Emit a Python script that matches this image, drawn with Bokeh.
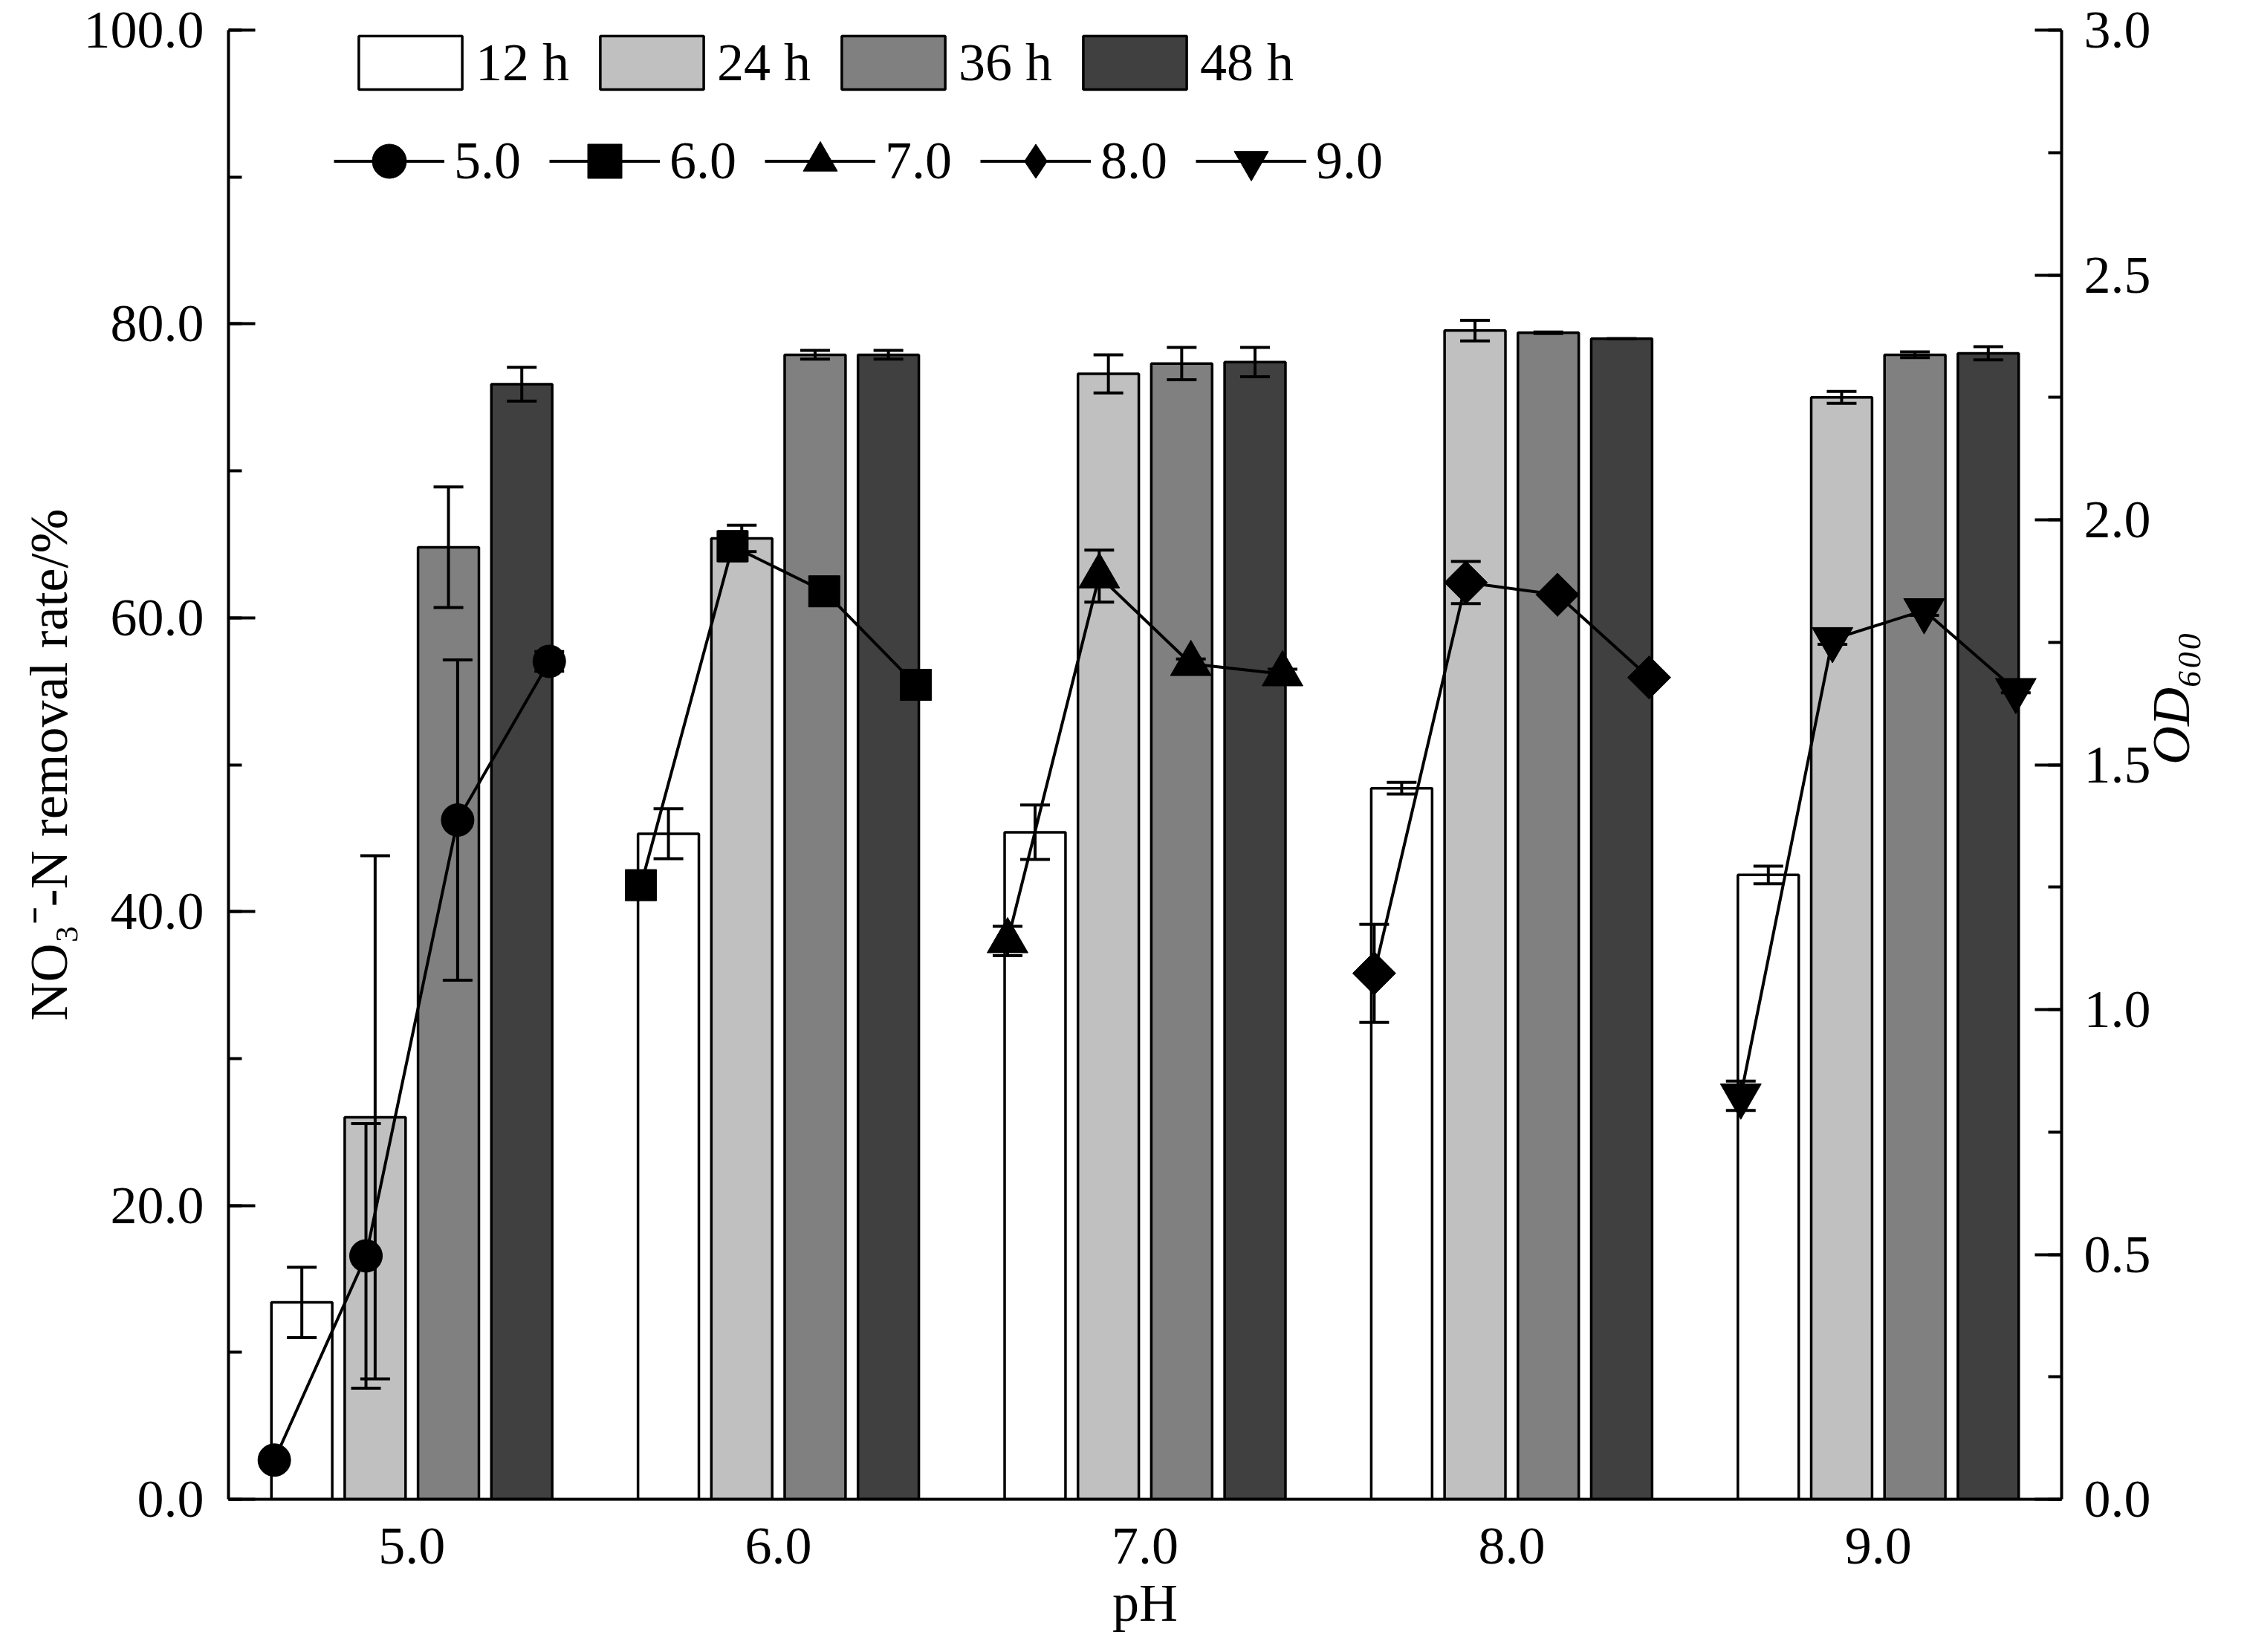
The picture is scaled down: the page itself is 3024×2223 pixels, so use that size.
import math
from bokeh.plotting import figure
from bokeh.models import (Range1d, LinearAxis, SingleIntervalTicker, FixedTicker,
                          PrintfTickFormatter, ColumnDataSource, Whisker, TeeHead,
                          Legend, LegendItem)
from bokeh.embed import file_html
from bokeh.resources import INLINE

# ---------------- data ----------------
ph = [5.0, 6.0, 7.0, 8.0, 9.0]
time_labels = ["12 h", "24 h", "36 h", "48 h"]

# NO3--N removal rate (%) by pH, one list per sampling time
rate_12h = [13.4, 45.3, 45.4, 48.4, 42.5]
rate_12h_err = [2.4, 1.7, 1.85, 0.4, 0.6]
rate_24h = [26.0, 65.4, 76.6, 79.55, 75.0]
rate_24h_err = [17.8, 0.9, 1.3, 0.7, 0.4]
rate_36h = [64.8, 77.9, 77.3, 79.4, 77.9]
rate_36h_err = [4.1, 0.3, 1.1, 0.05, 0.2]
rate_48h = [75.9, 77.9, 77.4, 79.0, 78.0]
rate_48h_err = [1.15, 0.3, 1.0, 0.0, 0.45]

# OD600 at 12/24/36/48 h, one list per pH
series_labels = ["5.0", "6.0", "7.0", "8.0", "9.0"]
od_ph5 = [0.080, 0.497, 1.387, 1.711]
od_ph5_err = [0.01, 0.27, 0.327, 0.02]
od_ph6 = [1.254, 1.946, 1.854, 1.663]
od_ph6_err = [0.01, 0.03, 0.01, 0.01]
od_ph7 = [1.140, 1.885, 1.706, 1.685]
od_ph7_err = [0.03, 0.053, 0.01, 0.01]
od_ph8 = [1.074, 1.872, 1.847, 1.678]
od_ph8_err = [0.10, 0.043, 0.01, 0.01]
od_ph9 = [0.824, 1.756, 1.815, 1.652]
od_ph9_err = [0.03, 0.01, 0.01, 0.005]

# ---------------- styling ----------------
FONT = "Liberation Serif"
FS = "72px"
bar_offsets = [-0.3, -0.1, 0.1, 0.3]
bar_colors = ["#ffffff", "#c0c0c0", "#808080", "#404040"]
line_offsets = [-0.375, -0.125, 0.125, 0.375]
markers = ["circle", "square", "triangle", "square", "inverted_triangle"]
marker_angles = [0, 0, 0, math.pi / 4, 0]
marker_sizes = [44, 42, 55, 41, 55]

W, H = 3008, 2207
p = figure(width=W, height=H, output_backend="svg", toolbar_location=None,
           x_range=Range1d(4.5, 9.5), y_range=Range1d(0, 100),
           min_border_left=307, min_border_right=234,
           min_border_top=40, min_border_bottom=190)
p.outline_line_color = None
p.grid.visible = False
p.background_fill_color = "white"
p.border_fill_color = "white"
p.extra_y_ranges = {"od": Range1d(0, 3)}


def style_axis(ax):
    ax.axis_line_width = 4
    ax.axis_line_color = "black"
    ax.major_tick_line_width = 4
    ax.minor_tick_line_width = 4
    ax.major_tick_line_color = "black"
    ax.minor_tick_line_color = "black"
    ax.major_label_text_font = FONT
    ax.major_label_text_font_size = FS
    ax.major_label_text_color = "black"
    ax.axis_label_text_font = FONT
    ax.axis_label_text_font_size = FS
    ax.axis_label_text_color = "black"
    ax.axis_label_text_font_style = "normal"


# left axis
ly = p.yaxis[0]
style_axis(ly)
ly.ticker = SingleIntervalTicker(interval=20, num_minor_ticks=2)
ly.formatter = PrintfTickFormatter(format="%.1f")
ly.major_tick_in = 36
ly.major_tick_out = 0
ly.minor_tick_in = 18
ly.minor_tick_out = 0
ly.major_label_standoff = 33
ly.axis_label = "NO\u2083\u207B-N removal rate/%"
ly.axis_label_standoff = 4

# bottom axis
bx = p.xaxis[0]
style_axis(bx)
bx.ticker = FixedTicker(ticks=ph)
bx.formatter = PrintfTickFormatter(format="%.1f")
bx.major_tick_in = 0
bx.major_tick_out = 0
bx.minor_tick_in = 0
bx.minor_tick_out = 0
bx.major_label_standoff = 39
bx.axis_label = "pH"
bx.axis_label_standoff = 10

# right axis
ry = LinearAxis(y_range_name="od")
style_axis(ry)
ry.ticker = SingleIntervalTicker(interval=0.5, num_minor_ticks=2)
ry.formatter = PrintfTickFormatter(format="%.1f")
ry.major_tick_in = 36
ry.major_tick_out = 0
ry.minor_tick_in = 18
ry.minor_tick_out = 0
ry.major_label_standoff = 30
ry.axis_label = "OD\u2086\u2080\u2080"
ry.axis_label_text_font_style = "italic"
ry.axis_label_standoff = 24
ry.axis_label_orientation = math.pi / 2
p.add_layout(ry, "right")

# ---------------- bars ----------------
bar_sets = [(rate_12h, rate_12h_err), (rate_24h, rate_24h_err),
            (rate_36h, rate_36h_err), (rate_48h, rate_48h_err)]
bar_renderers = []
for k, (vals, errs) in enumerate(bar_sets):
    src = ColumnDataSource(dict(
        x=[v + bar_offsets[k] for v in ph],
        top=vals,
        upper=[v + e for v, e in zip(vals, errs)],
        lower=[v - e for v, e in zip(vals, errs)],
    ))
    r = p.vbar(x="x", top="top", bottom=0, width=0.166, source=src,
               fill_color=bar_colors[k], line_color="black", line_width=3.5)
    bar_renderers.append(r)
    p.add_layout(Whisker(source=src, base="x", upper="upper", lower="lower",
                         level="annotation",
                         line_width=4, line_color="black",
                         upper_head=TeeHead(size=40, line_width=4, line_color="black"),
                         lower_head=TeeHead(size=40, line_width=4, line_color="black")))

# ---------------- OD lines ----------------
od_sets = [(od_ph5, od_ph5_err), (od_ph6, od_ph6_err), (od_ph7, od_ph7_err),
           (od_ph8, od_ph8_err), (od_ph9, od_ph9_err)]
line_items = []
for i, (vals, errs) in enumerate(od_sets):
    src = ColumnDataSource(dict(
        x=[ph[i] + o for o in line_offsets],
        y=vals,
        upper=[v + e for v, e in zip(vals, errs)],
        lower=[v - e for v, e in zip(vals, errs)],
    ))
    lr = p.line(x="x", y="y", source=src, y_range_name="od",
                line_color="black", line_width=4)
    sr = p.scatter(x="x", y="y", source=src, y_range_name="od",
                   marker=markers[i], size=marker_sizes[i], angle=marker_angles[i],
                   fill_color="black", line_color="black", line_width=1)
    p.add_layout(Whisker(source=src, base="x", upper="upper", lower="lower",
                         y_range_name="od", level="annotation",
                         line_width=4, line_color="black",
                         upper_head=TeeHead(size=40, line_width=4, line_color="black"),
                         lower_head=TeeHead(size=40, line_width=4, line_color="black")))
    key = sr
    if marker_angles[i] != 0:
        # legend glyphs ignore marker angle: overlay a diamond (fits inside the
        # rotated square) so that the legend shows a diamond symbol
        key = p.scatter(x="x", y="y", source=src, y_range_name="od",
                        marker="diamond", size=marker_sizes[i] * 1.41,
                        fill_color="black", line_color="black", line_width=1)
    line_items.append(LegendItem(label=series_labels[i], renderers=[lr, key]))

# ---------------- legends ----------------
leg1 = Legend(items=[LegendItem(label=t, renderers=[bar_renderers[k]])
                     for k, t in enumerate(time_labels)],
              orientation="horizontal", location=(158, 1888),
              glyph_width=174, glyph_height=90, label_standoff=1, spacing=24,
              padding=0, margin=0, border_line_color=None,
              background_fill_alpha=0,
              label_text_font=FONT, label_text_font_size=FS,
              label_text_color="black")
leg2 = Legend(items=line_items,
              orientation="horizontal", location=(142, 1743),
              glyph_width=149, glyph_height=115, label_standoff=13, spacing=38,
              padding=0, margin=0, border_line_color=None,
              background_fill_alpha=0,
              label_text_font=FONT, label_text_font_size=FS,
              label_text_color="black")
p.add_layout(leg1)
p.add_layout(leg2)

open("out.html", "w").write(file_html(p, INLINE))
